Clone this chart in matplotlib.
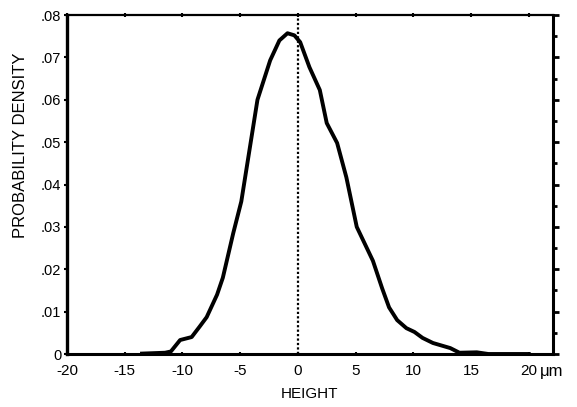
import matplotlib.pyplot as plt
from matplotlib.ticker import MultipleLocator

# height distribution (um) and probability density
height = [-13.5, -12.5, -11.5, -11.0, -10.2, -9.2, -8.5, -7.9, -7.0, -6.5,
          -5.6, -4.9, -4.2, -3.5, -2.4, -1.6, -0.9, -0.3, 0.2, 1.0,
          1.9, 2.5, 3.4, 4.2, 5.1, 6.5, 7.3, 7.9, 8.6, 9.4,
          10.1, 10.8, 11.7, 13.2, 14.0, 15.5, 16.5, 20.0]
density = [0.0001, 0.0002, 0.0003, 0.0006, 0.0033, 0.0040, 0.0065, 0.0087, 0.0140, 0.0180,
           0.0285, 0.0360, 0.0480, 0.0600, 0.0693, 0.0740, 0.0757, 0.0752, 0.0736, 0.0677,
           0.0623, 0.0545, 0.0498, 0.0417, 0.0300, 0.0220, 0.0155, 0.0110, 0.0080, 0.0061,
           0.0052, 0.0038, 0.0026, 0.0014, 0.0003, 0.0004, 0.0000, 0.0000]

xticks = [-20, -15, -10, -5, 0, 5, 10, 15, 20]
xlabels = ['-20', '-15', '-10', '-5', '0', '5', '10', '15', '20']
yticks = [0, 0.01, 0.02, 0.03, 0.04, 0.05, 0.06, 0.07, 0.08]
ylabels = ['0', '.01', '.02', '.03', '.04', '.05', '.06', '.07', '.08']

plt.rcParams['font.family'] = ['Liberation Sans', 'DejaVu Sans']

fig = plt.figure(figsize=(5.77, 4.07), dpi=100)
ax = fig.add_axes([0.1161, 0.1302, 0.8423, 0.8329])

ax.plot(height, density, color='black', lw=2.8, solid_joinstyle='round')
ax.plot([0, 0], [0, 0.08], color='black', lw=1.6, linestyle=(0, (1, 1)))

ax.set_xlim(-20, 22.1)
ax.set_ylim(0, 0.08)

for side, w in [('left', 2.4), ('bottom', 2.2), ('top', 1.6), ('right', 2.2)]:
    ax.spines[side].set_linewidth(w)

ax.set_xticks(xticks)
ax.set_xticklabels(xlabels, fontsize=11)
ax.set_yticks(yticks)
ax.set_yticklabels(ylabels, fontsize=10.5)
ax.tick_params(axis='x', which='major', direction='inout', length=3, width=1.5,
               pad=6, top=True)
ax.tick_params(axis='y', which='major', direction='out', length=2, width=1.5, pad=2)

# right-hand scale carries ticks only
ax2 = ax.twinx()
ax2.set_ylim(0, 0.08)
ax2.yaxis.set_major_locator(MultipleLocator(0.01))
ax2.yaxis.set_minor_locator(MultipleLocator(0.005))
ax2.tick_params(axis='y', which='major', direction='out', length=4, width=2, labelright=False)
ax2.tick_params(axis='y', which='minor', direction='out', length=3, width=2)
for s in ax2.spines.values():
    s.set_visible(False)

ax.set_xlabel('HEIGHT', fontsize=11, labelpad=6)
fig.text(0.036, 0.644, 'PROBABILITY DENSITY', rotation=90, fontsize=12,
         ha='center', va='center')
# unit label sits level with the tick labels
ax.text(20.95, -0.0024, 'μm', fontsize=12, ha='left', va='top', clip_on=False)

fig.savefig('out.png', dpi=100)
